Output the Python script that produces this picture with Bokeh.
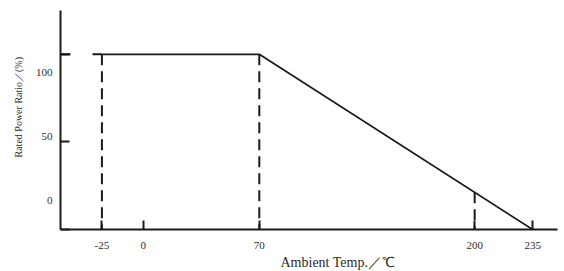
import numpy as np
from bokeh.plotting import figure
from bokeh.models import FixedTicker, LinearAxis, Range1d, Title
from bokeh.embed import file_html
from bokeh.resources import INLINE

# ---- data ----
curve_temp = [-25, 70, 235]          # derating curve break points (°C)
curve_ratio = [100, 100, 0]          # rated power ratio (%)
xtick_values = [-25, 0, 70, 200, 235]
xtick_labels = ["-25", "0", "70", "200", "235"]
guide_temps = [-25, 70, 200]         # dashed guide lines
ytick_values = [100, 50, 0]
ytick_labels = ["100", "50", "0"]
x_title = "Ambient Temp.／℃"
y_title = "Rated Power Ratio／(%)"

# ---- layout constants ----
X_START, X_END = -50, 250
Y_START, Y_END = 0, 125
FRAME_H = 219                        # px height of plot frame
ylabel_shift_px = [18, -5, -29]      # printed y labels sit this many px below their tick
INK = "#1a1a1a"
TXT = "#2b2b2b"
SERIF = "Liberation Serif"

p = figure(width=564, height=271,
           x_range=Range1d(X_START, X_END), y_range=Range1d(Y_START, Y_END),
           output_backend="svg", toolbar_location=None,
           min_border_left=60, min_border_right=7,
           min_border_top=10, min_border_bottom=42)
p.outline_line_color = None
p.grid.visible = False
p.background_fill_color = "white"
p.border_fill_color = "white"

# x axis
xa = p.xaxis[0]
xa.ticker = FixedTicker(ticks=xtick_values, minor_ticks=[])
xa.major_label_overrides = {v: s for v, s in zip(xtick_values, xtick_labels)}
xa.major_label_text_font = SERIF
xa.major_label_text_font_size = "11px"
xa.major_label_text_color = TXT
xa.major_label_standoff = 12

# y axis (line + tick marks only)
ya = p.yaxis[0]
ya.ticker = FixedTicker(ticks=ytick_values, minor_ticks=[])
ya.major_label_overrides = {v: "" for v in ytick_values}
ya.major_label_standoff = 0
ya.major_label_text_font_size = "11px"

for ax in (xa, ya):
    ax.axis_line_width = 2
    ax.axis_line_color = INK
    ax.major_tick_in = 9
    ax.major_tick_out = 0
    ax.major_tick_line_width = 2
    ax.major_tick_line_color = INK
    ax.minor_tick_line_color = None

# y tick labels, printed slightly displaced from their ticks as in the source
px_per_unit = FRAME_H / (Y_END - Y_START)
ylabel_pos = [v - s / px_per_unit for v, s in zip(ytick_values, ylabel_shift_px)]
yl = LinearAxis(ticker=FixedTicker(ticks=ylabel_pos, minor_ticks=[]),
                major_label_overrides={pos: s for pos, s in zip(ylabel_pos, ytick_labels)},
                axis_line_color=None, major_tick_line_color=None, minor_tick_line_color=None,
                major_tick_in=0, major_tick_out=0, major_label_standoff=8,
                major_label_text_font=SERIF, major_label_text_font_size="11px",
                major_label_text_color=TXT)
p.add_layout(yl, "left")

# axis titles
p.add_layout(Title(text=y_title, align="left", offset=72, standoff=18,
                   text_font=SERIF, text_font_size="10px", text_font_style="normal",
                   text_color=TXT), "left")
p.add_layout(Title(text=x_title, align="left", offset=220, standoff=2,
                   text_font=SERIF, text_font_size="14px", text_font_style="normal",
                   text_color=TXT), "below")

# dashed guides
guide_top = np.interp(guide_temps, curve_temp, curve_ratio)
p.segment(x0=guide_temps, y0=guide_top, x1=guide_temps, y1=[Y_START] * len(guide_temps),
          line_color=INK, line_width=2, line_dash="11 6")
p.segment(x0=[X_START], y0=[curve_ratio[0]], x1=[curve_temp[0]], y1=[curve_ratio[0]],
          line_color=INK, line_width=2, line_dash="10 22")

# derating curve
p.line(curve_temp, curve_ratio, line_color=INK, line_width=1.7)

open("out.html", "w").write(file_html(p, INLINE))
